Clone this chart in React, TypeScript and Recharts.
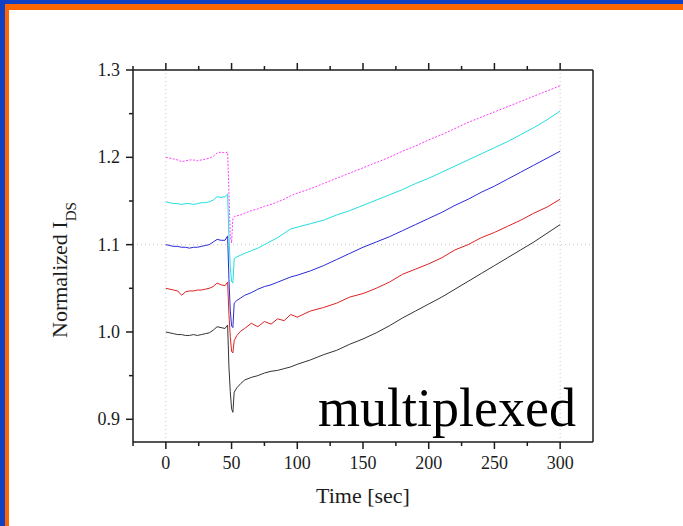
import { LineChart, Line, XAxis, YAxis, ReferenceLine } from 'recharts';

// time axis in seconds, shared by all five traces
const times = [
  0, 3, 6, 9, 12, 15, 18, 21, 24, 27, 30, 33, 36, 39, 42, 45, 47, 48, 49, 50, 51, 52, 54, 57, 60,
  65, 70, 75, 80, 85, 90, 95, 100, 110, 120, 130, 140, 150, 160, 170, 180, 190, 200, 210, 220,
  230, 240, 250, 260, 270, 280, 290, 300,
];

const blackTrace = [
  1.0, 0.999, 0.998, 0.997, 0.997, 0.996, 0.996, 0.997, 0.996, 0.997, 0.998, 0.999, 1.002, 1.006,
  1.005, 1.004, 1.008, 0.96, 0.932, 0.912, 0.908, 0.931, 0.936, 0.941, 0.945, 0.948, 0.95, 0.953,
  0.955, 0.956, 0.958, 0.96, 0.963, 0.968, 0.974, 0.979, 0.986, 0.992, 0.999, 1.007, 1.016, 1.024,
  1.032, 1.04, 1.049, 1.058, 1.067, 1.076, 1.085, 1.094, 1.103, 1.113, 1.123,
];

const redTrace = [
  1.05, 1.049, 1.048, 1.047, 1.042, 1.046, 1.047, 1.047, 1.048, 1.048, 1.049, 1.05, 1.052, 1.056,
  1.054, 1.053, 1.057, 1.02, 0.995, 0.978, 0.976, 0.99, 0.996, 1.001, 1.004, 1.01, 1.006, 1.012,
  1.009, 1.015, 1.013, 1.02, 1.017, 1.024, 1.028, 1.033, 1.04, 1.044, 1.05, 1.057, 1.066, 1.072,
  1.078, 1.085, 1.094, 1.1, 1.108, 1.114, 1.121, 1.128, 1.136, 1.143, 1.152,
];

const blueTrace = [
  1.1, 1.099, 1.098, 1.098, 1.097, 1.097, 1.096, 1.097, 1.097, 1.098, 1.099, 1.1, 1.103, 1.106,
  1.105, 1.105, 1.11, 1.06, 1.025, 1.007, 1.005, 1.033, 1.036, 1.039, 1.042, 1.045, 1.049, 1.052,
  1.054, 1.057, 1.06, 1.063, 1.065, 1.07, 1.076, 1.083, 1.09, 1.097, 1.103, 1.109, 1.116, 1.123,
  1.13, 1.137, 1.145, 1.152, 1.16, 1.167, 1.175, 1.183, 1.191, 1.199, 1.207,
];

const cyanTrace = [
  1.149, 1.148, 1.147, 1.147, 1.146, 1.147, 1.147, 1.146, 1.147, 1.148, 1.148, 1.149, 1.151, 1.155,
  1.154, 1.155, 1.158, 1.11, 1.075, 1.058, 1.056, 1.084, 1.086, 1.088, 1.09, 1.093, 1.096, 1.1,
  1.104, 1.108, 1.113, 1.118, 1.12, 1.124, 1.128, 1.134, 1.139, 1.145, 1.151, 1.157, 1.163, 1.17,
  1.176, 1.183, 1.19, 1.197, 1.204, 1.211, 1.218, 1.226, 1.234, 1.243, 1.253,
];

const magentaTrace = [
  1.2, 1.199, 1.198, 1.197, 1.195, 1.196, 1.197, 1.197, 1.196, 1.197, 1.198, 1.199, 1.201, 1.205,
  1.206, 1.205, 1.206, 1.16, 1.11, 1.102, 1.13, 1.132, 1.133, 1.134, 1.136, 1.139, 1.141, 1.144,
  1.146, 1.149, 1.152, 1.156, 1.159, 1.164, 1.17, 1.176, 1.182, 1.188, 1.194, 1.2, 1.207, 1.213,
  1.22, 1.226, 1.233, 1.24, 1.246, 1.252, 1.258, 1.264, 1.27, 1.276, 1.282,
];

const xTicks = [-25, 0, 25, 50, 75, 100, 125, 150, 175, 200, 225, 250, 275, 300];
const yTicks = [0.9, 0.95, 1.0, 1.05, 1.1, 1.15, 1.2, 1.25, 1.3];

const table = times.map((t, i) => ({
  t,
  black: blackTrace[i],
  red: redTrace[i],
  blue: blueTrace[i],
  cyan: cyanTrace[i],
  magenta: magentaTrace[i],
}));

const serif = '"Liberation Serif", "Times New Roman", serif';
const ink = '#1c1c1c';

// layout: top margin + height of the mirrored top axis = top edge of the plot
const MARGIN_TOP = 60;
const TOP_AXIS_H = 10;
const PLOT_TOP = MARGIN_TOP + TOP_AXIS_H;

const isMajorX = (v: number) => v % 50 === 0;
const isMajorY = (v: number) => Math.abs(v * 10 - Math.round(v * 10)) < 1e-6;

// bottom tick + label, plus the mirrored mark on the top edge at the same x
function BottomTick({ x, y, payload }: any) {
  const major = isMajorX(payload.value);
  const len = major ? 7 : 4;
  return (
    <g>
      <line x1={x} x2={x} y1={y} y2={y + len} stroke={ink} strokeWidth={1.5} />
      <line x1={x} x2={x} y1={PLOT_TOP} y2={PLOT_TOP - len} stroke={ink} strokeWidth={1.5} />
      {major && (
        <text x={x} y={y + 27} textAnchor="middle" fontSize={18} fontFamily={serif} fill={ink}>
          {payload.value}
        </text>
      )}
    </g>
  );
}

function LeftTick({ x, y, payload }: any) {
  const major = isMajorY(payload.value);
  return (
    <g>
      <line x1={x} x2={x - (major ? 7 : 4)} y1={y} y2={y} stroke={ink} strokeWidth={1.5} />
      {major && (
        <text x={x - 13} y={y + 6} textAnchor="end" fontSize={18} fontFamily={serif} fill={ink}>
          {payload.value.toFixed(1)}
        </text>
      )}
    </g>
  );
}

export default function App() {
  return (
    <div style={{ position: 'relative', width: 683, height: 526, background: '#fff', overflow: 'hidden' }}>
      <style>{'body{margin:0}'}</style>
      {/* slide frame */}
      <div style={{ position: 'absolute', left: 0, top: 0, width: 683, height: 4, background: '#1240c2' }} />
      <div style={{ position: 'absolute', left: 0, top: 0, width: 5, height: 526, background: '#1240c2' }} />
      <div style={{ position: 'absolute', left: 5, top: 4, width: 678, height: 6, background: '#ff6600' }} />
      <div style={{ position: 'absolute', left: 5, top: 4, width: 4, height: 522, background: '#ff6600' }} />

      <div style={{ position: 'absolute', left: 0, top: 0 }}>
        <LineChart width={683} height={526} data={table} margin={{ top: MARGIN_TOP, right: 90, bottom: 24, left: 73 }}>
          <XAxis
            xAxisId="bottom"
            dataKey="t"
            type="number"
            domain={[-25, 325]}
            allowDataOverflow
            ticks={xTicks}
            interval={0}
            height={60}
            tickSize={0}
            tickMargin={0}
            tickLine={false}
            tick={<BottomTick />}
            axisLine={{ stroke: ink, strokeWidth: 1.5 }}
          />
          {/* mirrored axis on top, same scale: gives the top edge of the box */}
          <XAxis
            xAxisId="top"
            orientation="top"
            dataKey="t"
            type="number"
            domain={[-25, 325]}
            allowDataOverflow
            ticks={xTicks}
            interval={0}
            height={TOP_AXIS_H}
            tick={false}
            tickLine={false}
            axisLine={{ stroke: ink, strokeWidth: 1.5 }}
          />
          <YAxis
            yAxisId="left"
            type="number"
            domain={[0.874, 1.3]}
            allowDataOverflow
            ticks={yTicks}
            interval={0}
            width={60}
            tickSize={0}
            tickMargin={0}
            tickLine={false}
            tick={<LeftTick />}
            axisLine={{ stroke: ink, strokeWidth: 1.5 }}
          />
          <ReferenceLine xAxisId="bottom" yAxisId="left" x={0} stroke="#c4c4c4" strokeDasharray="1 3" />
          <ReferenceLine xAxisId="bottom" yAxisId="left" x={300} stroke="#c4c4c4" strokeDasharray="1 3" />
          <ReferenceLine xAxisId="bottom" yAxisId="left" y={1.1} stroke="#c4c4c4" strokeDasharray="1 3" />
          <ReferenceLine xAxisId="bottom" yAxisId="left" x={325} stroke={ink} strokeWidth={1.5} />
          <Line xAxisId="bottom" yAxisId="left" type="linear" dataKey="black" stroke="#333333" strokeWidth={1} dot={false} isAnimationActive={false} />
          <Line xAxisId="bottom" yAxisId="left" type="linear" dataKey="red" stroke="#dd2222" strokeWidth={1} dot={false} isAnimationActive={false} />
          <Line xAxisId="bottom" yAxisId="left" type="linear" dataKey="blue" stroke="#2a2ad6" strokeWidth={1} dot={false} isAnimationActive={false} />
          <Line xAxisId="bottom" yAxisId="left" type="linear" dataKey="cyan" stroke="#22dede" strokeWidth={1} dot={false} isAnimationActive={false} />
          <Line xAxisId="top" yAxisId="left" type="linear" dataKey="magenta" stroke="#ff3cff" strokeWidth={1} strokeDasharray="2 1.5" dot={false} isAnimationActive={false} />
        </LineChart>
      </div>

      <svg width={683} height={526} style={{ position: 'absolute', left: 0, top: 0, pointerEvents: 'none' }}>
        <text x={363} y={503} textAnchor="middle" fontSize={22} fontFamily={serif} fill={ink}>
          Time [sec]
        </text>
        <text transform="translate(67, 338) rotate(-90)" fontSize={22} fontFamily={serif} fill={ink}>
          Normalized I
          <tspan fontSize={15} dy={9}>DS</tspan>
        </text>
        <text x={576} y={426} textAnchor="end" fontSize={54} fontFamily={serif} fill="#000">
          multiplexed
        </text>
      </svg>
    </div>
  );
}
